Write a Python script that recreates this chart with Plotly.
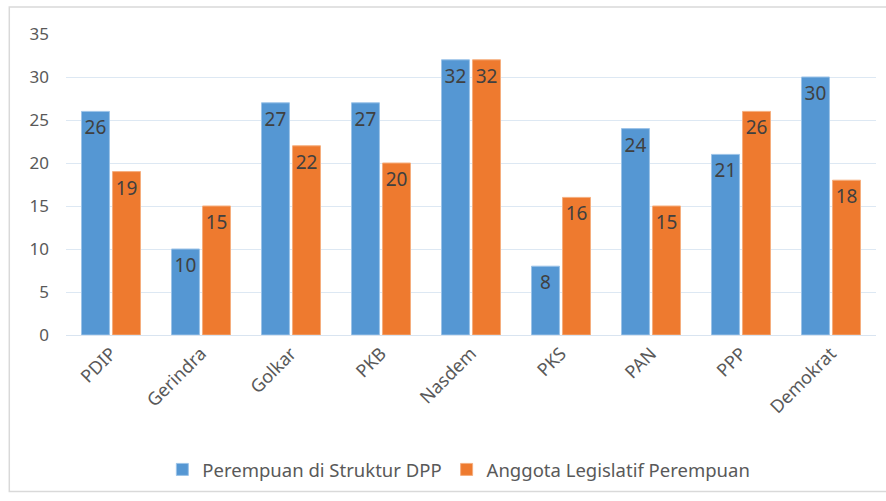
import plotly.graph_objects as go

categories = ["PDIP", "Gerindra", "Golkar", "PKB", "Nasdem", "PKS", "PAN", "PPP", "Demokrat"]
struktur_dpp = [26, 10, 27, 27, 32, 8, 24, 21, 30]
legislatif = [19, 15, 22, 20, 32, 16, 15, 26, 18]
y_ticks = [0, 5, 10, 15, 20, 25, 30, 35]

FONT = "Noto Sans"
TXT = "#404040"
GRAY = "#595959"

fig = go.Figure()
fig.add_trace(go.Bar(
    x=categories, y=struktur_dpp, name="Perempuan di Struktur DPP",
    marker=dict(color="#5597d3", line=dict(color="#9cc3e8", width=1)),
    text=struktur_dpp, textposition="inside", insidetextanchor="end",
    textfont=dict(family=FONT, size=19, color=TXT), textangle=0,
))
fig.add_trace(go.Bar(
    x=categories, y=legislatif, name="Anggota Legislatif Perempuan",
    marker=dict(color="#ee7a2f", line=dict(color="#f5ae7e", width=1)),
    text=legislatif, textposition="inside", insidetextanchor="end",
    textfont=dict(family=FONT, size=19, color=TXT), textangle=0,
))

fig.update_layout(
    width=886, height=501,
    margin=dict(l=66, r=10, t=34, b=166),
    paper_bgcolor="white", plot_bgcolor="white",
    barmode="group", bargap=0.31, bargroupgap=0.1,
    font=dict(family=FONT, color=GRAY, size=17),
    legend=dict(orientation="h", x=0.485, xanchor="center", y=-0.385, yanchor="top",
                bgcolor="rgba(0,0,0,0)",
                font=dict(family=FONT, size=18.5, color=GRAY),
                itemwidth=30, traceorder="normal"),
    uniformtext=dict(mode=False),
    shapes=[dict(type="rect", xref="paper", yref="paper",
                 x0=-0.07, x1=1.02, y0=-0.52, y1=1.09,
                 line=dict(color="#d9d9d9", width=1.5), layer="below")],
)
fig.update_xaxes(tickangle=-45, showgrid=False, showline=True, linecolor="#d9e4f0",
                 linewidth=1, tickfont=dict(size=18, color=GRAY), automargin=False)
fig.update_yaxes(range=[0, 35], tickvals=y_ticks, showgrid=True, gridcolor="#dde8f3",
                 gridwidth=1, zeroline=False, tickfont=dict(size=17, color=GRAY),
                 ticklabelstandoff=16, automargin=False)

fig.write_html("out.html")
